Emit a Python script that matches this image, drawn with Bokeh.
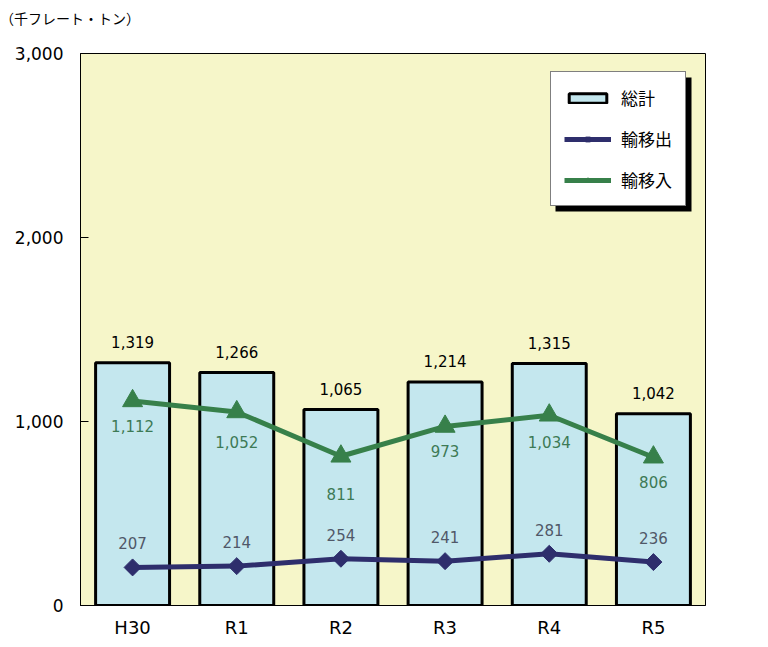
from math import pi

from bokeh.core.properties import value
from bokeh.embed import file_html
from bokeh.layouts import column
from bokeh.models import (BoxAnnotation, ColumnDataSource, Div, FixedTicker,
                          Legend, LegendItem, NumeralTickFormatter)
from bokeh.plotting import figure
from bokeh.resources import INLINE

years = ["H30", "R1", "R2", "R3", "R4", "R5"]
total = [1319, 1266, 1065, 1214, 1315, 1042]
outflow = [207, 214, 254, 241, 281, 236]
inflow = [1112, 1052, 811, 973, 1034, 806]
y_ticks = [0, 1000, 2000, 3000]
unit_text = "（千フレート・トン）"

# label nudges (px, down is positive) as placed in the original
inflow_offsets = [25, 30, 38, 25, 27, 25]

JP_FONT = "Noto Sans CJK JP"
NUM_FONT = "DejaVu Sans"
BAR_FILL = "#c4e7ee"
BG = "#f6f6c9"
NAVY = "#2e2e6c"
GREEN = "#37804a"

src = ColumnDataSource(dict(
    year=years,
    total=total,
    outflow=outflow,
    inflow=inflow,
    total_txt=[f"{v:,}" for v in total],
    outflow_txt=[f"{v:,}" for v in outflow],
    inflow_txt=[f"{v:,}" for v in inflow],
    inflow_off=inflow_offsets,
))

# unit caption sits above the plot, at the far left
unit_div = Div(
    text=unit_text,
    width=300,
    height=36,
    margin=(0, 0, 0, 0),
    styles={"font-family": JP_FONT, "font-size": "14px", "line-height": "36px",
            "color": "black"},
)

p = figure(
    x_range=years,
    y_range=(0, 3000),
    width=752,
    height=605,
    output_backend="svg",
    toolbar_location=None,
    min_border_left=80,
    min_border_right=47,
    min_border_top=17,
    min_border_bottom=36,
)
p.background_fill_color = BG
p.border_fill_color = "white"
p.outline_line_color = "black"
p.outline_line_width = 1
p.grid.grid_line_color = None

bars = p.vbar(x="year", top="total", width=0.71, source=src,
              fill_color=BAR_FILL, line_color="black", line_width=3)
in_line = p.line(x="year", y="inflow", source=src, color=GREEN, line_width=5)
in_pts = p.scatter(x="year", y="inflow", source=src, marker="triangle", size=20,
                   fill_color=GREEN, line_color=GREEN)
out_line = p.line(x="year", y="outflow", source=src, color=NAVY, line_width=5)
out_pts = p.scatter(x="year", y="outflow", source=src, marker="square", size=12,
                    angle=pi / 4, fill_color=NAVY, line_color=NAVY)

p.text(x="year", y="total", text="total_txt", source=src, y_offset=-21,
       text_align="center", text_baseline="middle", text_color="black",
       text_font=value(NUM_FONT), text_font_size="15px")
p.text(x="year", y="inflow", text="inflow_txt", source=src, y_offset="inflow_off",
       text_align="center", text_baseline="middle", text_color="#3d7a55",
       text_font=value(NUM_FONT), text_font_size="15px")
p.text(x="year", y="outflow", text="outflow_txt", source=src, y_offset=-24,
       text_align="center", text_baseline="middle", text_color="#505868",
       text_font=value(NUM_FONT), text_font_size="15px")

p.yaxis.ticker = FixedTicker(ticks=y_ticks)
p.yaxis.formatter = NumeralTickFormatter(format="0,0")
p.yaxis.major_tick_in = 8
p.yaxis.major_tick_out = 0
p.yaxis.minor_tick_line_color = None
p.yaxis.major_label_standoff = 17
p.yaxis.major_label_text_font_size = "17px"
p.xaxis.major_tick_in = 0
p.xaxis.major_tick_out = 0
p.xaxis.major_label_standoff = 11
p.xaxis.major_label_text_font_size = "18px"
for ax in (p.xaxis, p.yaxis):
    ax.axis_line_color = "black"
    ax.major_tick_line_color = "black"
    ax.major_label_text_font = NUM_FONT
    ax.major_label_text_color = "black"

# legend with drop shadow
p.add_layout(BoxAnnotation(left=475, right=611, bottom=394, top=528,
                           left_units="screen", right_units="screen",
                           bottom_units="screen", top_units="screen",
                           fill_color="black", fill_alpha=1, line_color=None))
legend = Legend(
    items=[
        LegendItem(label="総計", renderers=[bars]),
        LegendItem(label="輸移出", renderers=[out_line, out_pts]),
        LegendItem(label="輸移入", renderers=[in_line, in_pts]),
    ],
    location=(470, 399),
    glyph_width=47,
    glyph_height=12,
    label_height=20,
    spacing=16,
    padding=13,
    margin=0,
    label_standoff=10,
    label_text_font=JP_FONT,
    label_text_font_size="17px",
    label_text_color="black",
    border_line_color="black",
    border_line_width=1.5,
    background_fill_color="white",
    background_fill_alpha=1,
)
p.add_layout(legend, "center")

page = column(unit_div, p, spacing=0)
open("out.html", "w").write(file_html(page, INLINE))
